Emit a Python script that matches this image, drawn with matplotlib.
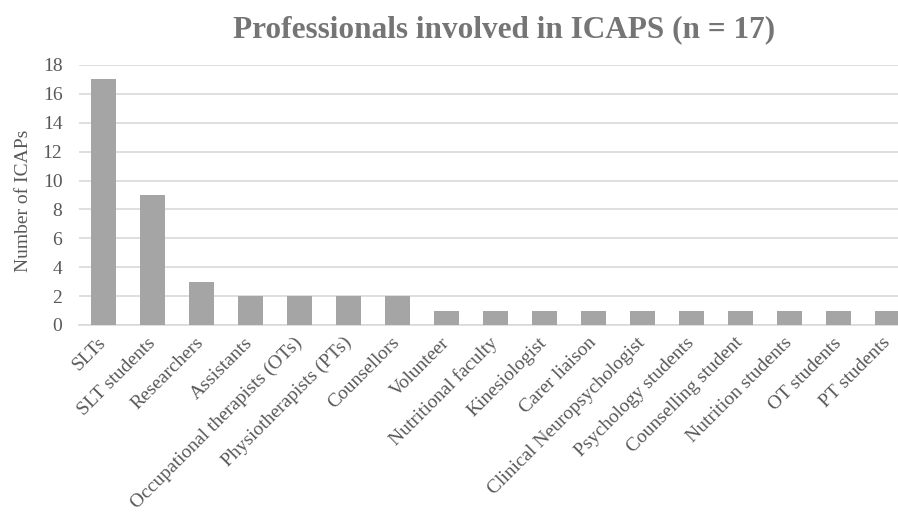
import matplotlib.pyplot as plt
import numpy as np

professions = ["SLTs", "SLT students", "Researchers", "Assistants",
               "Occupational therapists (OTs)", "Physiotherapists (PTs)",
               "Counsellors", "Volunteer", "Nutritional faculty", "Kinesiologist",
               "Carer liaison", "Clinical Neuropsychologist", "Psychology students",
               "Counselling student", "Nutrition students", "OT students", "PT students"]
counts = [17, 9, 3, 2, 2, 2, 2, 1, 1, 1, 1, 1, 1, 1, 1, 1, 1]

plt.rcParams['font.family'] = ['Liberation Serif', 'DejaVu Serif']

fig = plt.figure(figsize=(8.98, 5.13), dpi=100)
# plot area runs slightly past the right edge, as in the original
ax = fig.add_axes([0.088, 0.3665, 0.9276, 0.5068])

x = np.arange(len(professions))
ax.bar(x, counts, width=0.51, color='#a5a5a5', zorder=3)

ax.set_xlim(-0.5, len(professions) - 0.5)
ax.set_ylim(0, 18)
ax.set_yticks(range(0, 19, 2))
ax.yaxis.grid(True, color='#d9d9d9', lw=1.2, zorder=0)
ax.set_xticks(x)
ax.set_xticklabels(professions, rotation=45, ha='right', va='center',
                   rotation_mode='anchor', fontsize=14, color='#595959')
ax.tick_params(axis='y', labelsize=14, labelcolor='#595959', length=0, pad=12)
ax.tick_params(axis='x', length=0, pad=11)
for s in ['top', 'right', 'left']:
    ax.spines[s].set_visible(False)
ax.spines['bottom'].set_color('#d9d9d9')
ax.spines['bottom'].set_linewidth(1.2)
ax.set_ylabel('Number of ICAPs', fontsize=14, color='#595959')
ax.yaxis.set_label_coords(-0.056, 0.477)

fig.text(0.561, 0.942, 'Professionals involved in ICAPS (n = 17)', ha='center', va='center',
         fontsize=22.5, fontweight='bold', color='#757575')

fig.savefig('out.png', dpi=100)
